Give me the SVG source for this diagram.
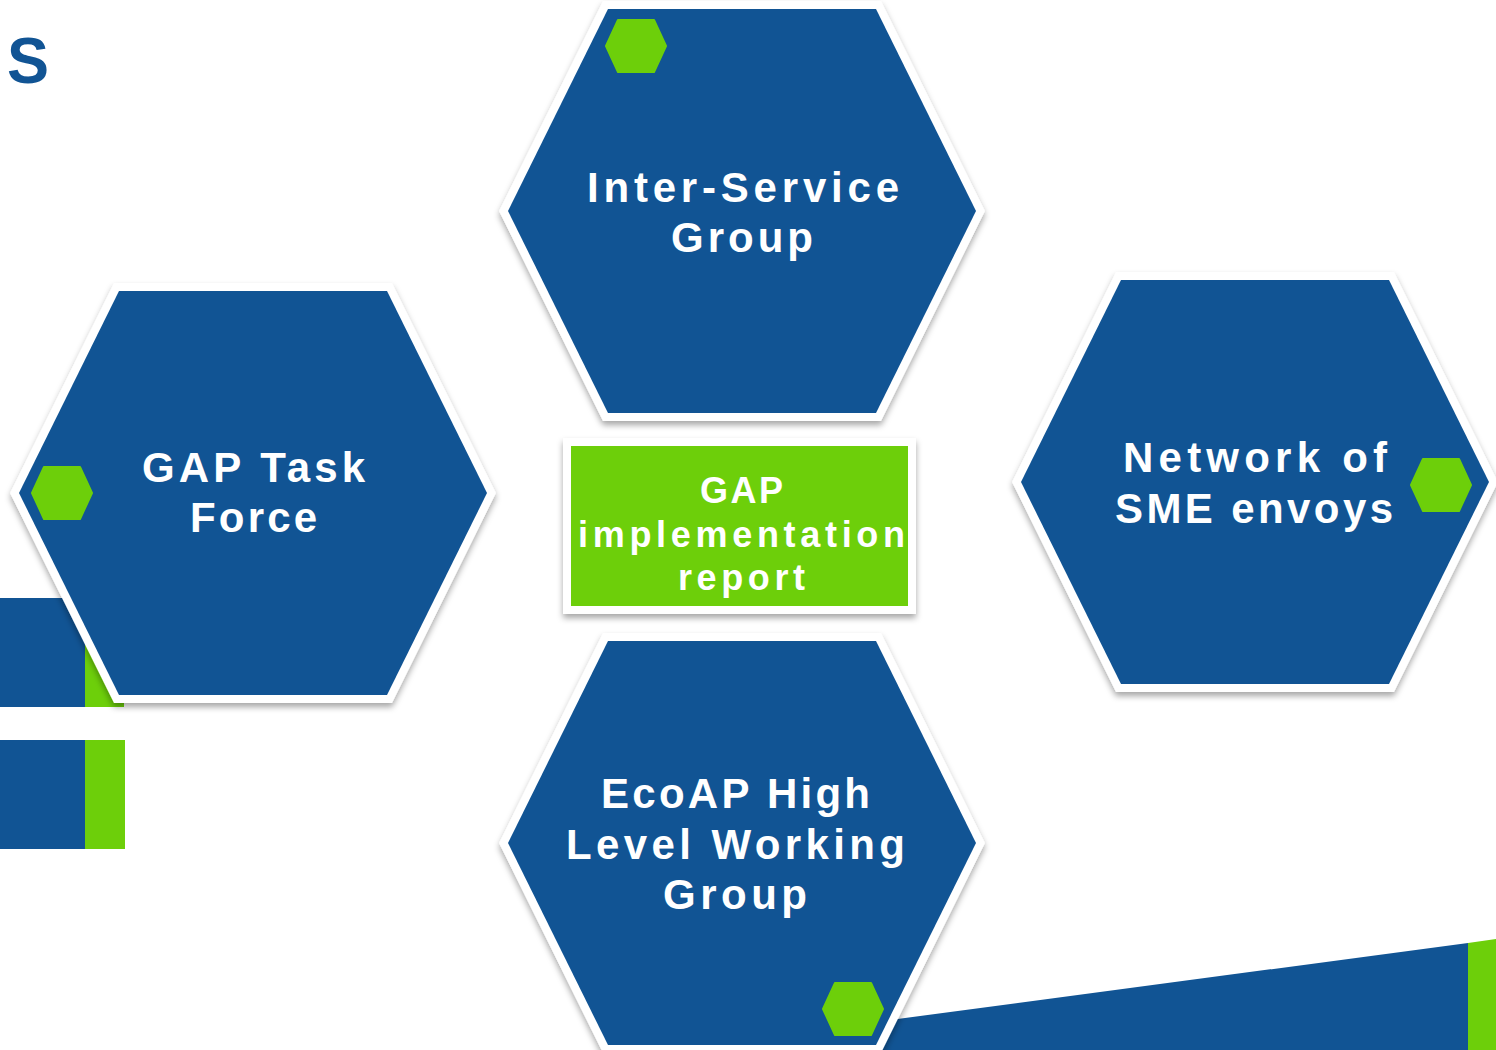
<svg xmlns="http://www.w3.org/2000/svg" width="1496" height="1050" viewBox="0 0 1496 1050">
  <defs>
    <filter id="sh" x="-10%" y="-10%" width="120%" height="125%">
      <feDropShadow dx="0" dy="4" stdDeviation="3" flood-color="#000" flood-opacity="0.35"/>
    </filter>
    <polygon id="hex" points="-234,0 -134,-202 134,-202 234,0 134,202 -134,202"/>
    <polygon id="mini" points="-30,0 -18,-26 18,-26 30,0 18,26 -18,26"/>
  </defs>
  <style>
    .bg{fill:#115494}
    .gr{fill:#6dcf0a}
    .frame{fill:#ffffff;stroke:#ffffff;stroke-width:16;stroke-linejoin:miter}
    .body{fill:#115494}
    .mini{fill:#6dcf0a;stroke:#6dcf0a;stroke-width:2;stroke-linejoin:round}
    .t{font-family:"Liberation Sans",Arial,sans-serif;font-weight:bold;fill:#ffffff;text-anchor:middle}
    .h{font-size:42px}
    .c{font-size:36px}
  </style>

  <!-- background decoration -->
  <g id="background">
    <text x="7" y="83" font-family="Liberation Sans, Arial, sans-serif" font-weight="bold" font-size="64" fill="#115494" textLength="42" lengthAdjust="spacingAndGlyphs">S</text>
    <rect class="gr" x="84" y="598" width="40" height="109"/>
    <rect class="bg" x="0" y="598" width="85" height="109"/>
    <rect class="gr" x="84" y="740" width="41" height="109"/>
    <rect class="bg" x="0" y="740" width="85" height="109"/>
    <polygon class="bg" points="860,1024 1468,943 1468,1050 860,1050"/>
    <polygon class="gr" points="1468,943 1496,939 1496,1050 1468,1050"/>
  </g>

  <g id="connectors"></g>

  <g id="node-inter-service" transform="translate(742,211)">
    <use href="#hex" class="frame" filter="url(#sh)"/>
    <use href="#hex" class="body"/>
    <use href="#mini" class="mini" x="-106" y="-165"/>
    <text class="t h" x="1" y="-9" textLength="312" lengthAdjust="spacing">Inter-Service</text>
    <text class="t h" x="0" y="41" textLength="142" lengthAdjust="spacing">Group</text>
  </g>

  <g id="node-gap-task-force" transform="translate(253,493)">
    <use href="#hex" class="frame" filter="url(#sh)"/>
    <use href="#hex" class="body"/>
    <use href="#mini" class="mini" x="-191" y="0"/>
    <text class="t h" x="0.5" y="-11" textLength="223" lengthAdjust="spacing">GAP Task</text>
    <text class="t h" x="0.5" y="39" textLength="127" lengthAdjust="spacing">Force</text>
  </g>

  <g id="node-sme-envoys" transform="translate(1255,482)">
    <use href="#hex" class="frame" filter="url(#sh)"/>
    <use href="#hex" class="body"/>
    <use href="#mini" class="mini" x="186" y="3"/>
    <text class="t h" x="0" y="-10" textLength="264" lengthAdjust="spacing">Network of</text>
    <text class="t h" x="-1" y="41" textLength="278" lengthAdjust="spacing">SME envoys</text>
  </g>

  <g id="node-ecoap" transform="translate(742,843)">
    <use href="#hex" class="frame" filter="url(#sh)"/>
    <use href="#hex" class="body"/>
    <use href="#mini" class="mini" x="111" y="166"/>
    <text class="t h" x="-6.5" y="-35" textLength="269" lengthAdjust="spacing">EcoAP High</text>
    <text class="t h" x="-6.5" y="16" textLength="339" lengthAdjust="spacing">Level Working</text>
    <text class="t h" x="-7" y="66" textLength="144" lengthAdjust="spacing">Group</text>
  </g>

  <g id="node-gap-report">
    <rect x="563" y="438" width="353" height="176" fill="#ffffff" filter="url(#sh)"/>
    <rect x="571" y="446" width="337" height="160" class="gr"/>
    <text class="t c" x="741.5" y="503" textLength="83" lengthAdjust="spacing">GAP</text>
    <text class="t c" x="741.5" y="547" textLength="327" lengthAdjust="spacing">implementation</text>
    <text class="t c" x="741.5" y="590" textLength="127" lengthAdjust="spacing">report</text>
  </g>
</svg>
